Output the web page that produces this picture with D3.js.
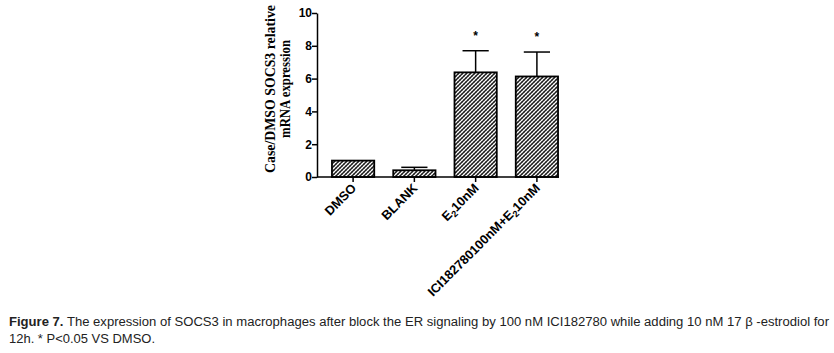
<!DOCTYPE html>
<html>
<head>
<meta charset="utf-8">
<script src="https://cdn.jsdelivr.net/npm/d3@7"></script>
<style>
  body { margin: 0; background: #fff; }
  svg { display: block; }
</style>
</head>
<body>
<svg id="chart" width="834" height="353"></svg>
<script>
// values
var groups = ["DMSO", "BLANK", "E2", "ICI"];
var labels = [["DMSO"], ["BLANK"], ["E", "2", "10nM"], ["ICI182780100nM+E", "2", "10nM"]];
var means = [1.0, 0.41, 6.38, 6.13];
var errs = [0, 0.18, 1.32, 1.49];
var stars = ["", "", "*", "*"];
var yTicks = [0, 2, 4, 6, 8, 10];

var svg = d3.select("#chart");

var defs = svg.append("defs");
var pat = defs.append("pattern")
    .attr("id", "hatch")
    .attr("patternUnits", "userSpaceOnUse")
    .attr("width", 4).attr("height", 4);
pat.append("rect").attr("width", 4).attr("height", 4).attr("fill", "#fff");
pat.append("path")
    .attr("d", "M-1,1 l2,-2 M0,4 l4,-4 M3,5 l2,-2")
    .attr("stroke", "#1a1a1a").attr("stroke-width", 1.4);
pat.append("path")
    .attr("d", "M0,0 l4,4")
    .attr("stroke", "#555").attr("stroke-width", 0.6);

var x = d3.scaleBand()
    .domain(groups)
    .range([324, 566])
    .paddingInner(0.31)
    .paddingOuter(0.13);

var y = d3.scaleLinear()
    .domain([0, 10])
    .range([177, 13]);

var g = svg.append("g");

// bars
g.selectAll("rect.bar")
    .data(groups)
  .enter().append("rect")
    .attr("class", "bar")
    .attr("x", function(d) { return x(d); })
    .attr("width", x.bandwidth())
    .attr("y", function(d, i) { return y(means[i]); })
    .attr("height", function(d, i) { return y(0) - y(means[i]); })
    .attr("fill", "url(#hatch)")
    .attr("stroke", "#000")
    .attr("stroke-width", 1.8);

// error bars (upper only, centred cap)
groups.forEach(function(d, i) {
  if (!errs[i]) return;
  var cx = x(d) + x.bandwidth() / 2;
  var cap = x.bandwidth() * 0.31;
  g.append("line")
      .attr("x1", cx).attr("x2", cx)
      .attr("y1", y(means[i])).attr("y2", y(means[i] + errs[i]))
      .attr("stroke", "#000").attr("stroke-width", 1.5);
  g.append("line")
      .attr("x1", cx - cap).attr("x2", cx + cap)
      .attr("y1", y(means[i] + errs[i])).attr("y2", y(means[i] + errs[i]))
      .attr("stroke", "#000").attr("stroke-width", 1.5);
  if (stars[i]) {
    g.append("text")
        .attr("x", cx).attr("y", y(means[i] + errs[i]) - 11)
        .attr("text-anchor", "middle")
        .attr("font-family", "Liberation Sans, Arial, sans-serif")
        .attr("font-weight", "bold")
        .attr("font-size", 12)
        .text(stars[i]);
  }
});

// y axis
var yAxis = d3.axisLeft(y).tickValues(yTicks).tickSize(5).tickSizeOuter(0);
var ya = svg.append("g")
    .attr("transform", "translate(317,0)")
    .call(yAxis);
ya.select(".domain").attr("stroke-width", 1.5);
ya.selectAll(".tick line").attr("stroke-width", 1.5);
ya.selectAll(".tick text")
    .attr("font-family", "Liberation Sans, Arial, sans-serif")
    .attr("font-weight", "bold")
    .attr("font-size", 12)
    .attr("x", -5)
    .attr("fill", "#000");

// x axis
var xAxis = d3.axisBottom(x).tickSize(5).tickSizeOuter(0).tickFormat("");
var xa = svg.append("g")
    .attr("transform", "translate(0," + y(0) + ")")
    .call(xAxis);
xa.select(".domain").attr("d", "M317,0H" + (x("ICI") + x.bandwidth() + 1)).attr("stroke-width", 1.5);
xa.selectAll(".tick line").attr("stroke-width", 1.5);

// rotated category labels
groups.forEach(function(d, i) {
  var cx = x(d) + x.bandwidth() / 2 + 4;
  var t = svg.append("text")
      .attr("transform", "translate(" + cx + "," + 189 + ") rotate(-45)")
      .attr("text-anchor", "end")
      .attr("font-family", "Liberation Sans, Arial, sans-serif")
      .attr("font-weight", "bold")
      .attr("font-size", 12.8);
  var parts = labels[i];
  t.append("tspan").text(parts[0]);
  if (parts.length > 1) {
    t.append("tspan").attr("font-size", 9).attr("dy", 3).text(parts[1]);
    t.append("tspan").attr("dy", -3).text(parts[2]);
  }
});

// y axis title
var yt = svg.append("g")
    .attr("transform", "translate(275,89) rotate(-90)")
    .attr("font-family", "Liberation Serif, Times New Roman, serif")
    .attr("font-weight", "bold")
    .attr("font-size", 14);
yt.append("text").attr("x", -84).attr("y", 0)
    .attr("textLength", 168).attr("lengthAdjust", "spacingAndGlyphs")
    .text("Case/DMSO SOCS3 relative");
yt.append("text").attr("x", -49).attr("y", 15)
    .attr("textLength", 98).attr("lengthAdjust", "spacingAndGlyphs")
    .text("mRNA expression");

// caption
var cap = svg.append("g")
    .attr("font-family", "Liberation Sans Narrow, Liberation Sans, Arial, sans-serif")
    .attr("font-size", 12.5)
    .attr("fill", "#222");
var l1 = cap.append("text").attr("x", 9).attr("y", 326)
    .attr("textLength", 820).attr("lengthAdjust", "spacingAndGlyphs");
l1.append("tspan").attr("font-weight", "bold").text("Figure 7.");
l1.append("tspan").text(" The expression of SOCS3 in macrophages after block the ER signaling by 100 nM ICI182780 while adding 10 nM 17 \u03b2 -estrodiol for");
cap.append("text").attr("x", 9).attr("y", 343).attr("textLength", 146).attr("lengthAdjust", "spacingAndGlyphs")
    .text("12h.  * P<0.05 VS DMSO.");
</script>
</body>
</html>
